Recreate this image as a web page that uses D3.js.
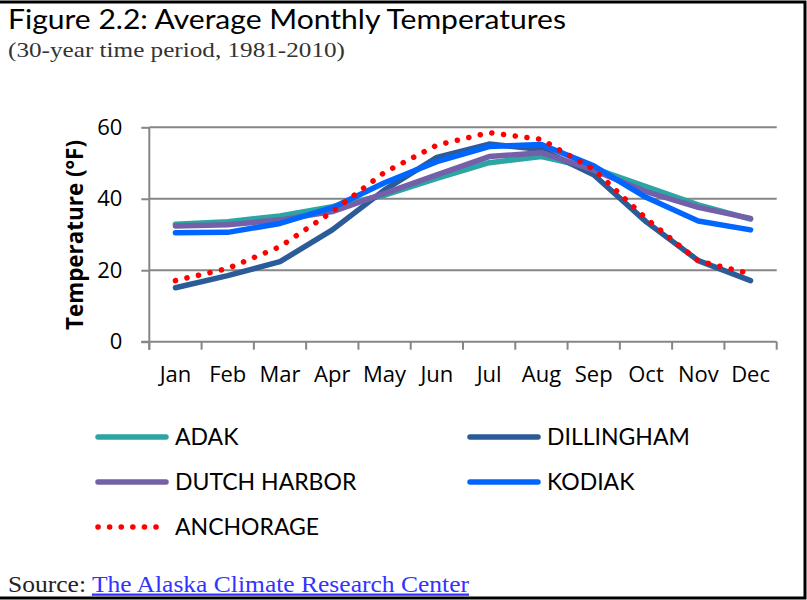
<!DOCTYPE html>
<html>
<head>
<meta charset="utf-8">
<script src="https://cdn.jsdelivr.net/npm/d3@7"></script>
<style>
  body { margin: 0; background: #fff; }
  svg { display: block; }
</style>
</head>
<body>
<div id="line-chart"></div>
<script>
// data
const months = ["Jan", "Feb", "Mar", "Apr", "May", "Jun", "Jul", "Aug", "Sep", "Oct", "Nov", "Dec"];
const adak = [32.9, 33.6, 35.2, 37.8, 41.0, 45.7, 50.1, 51.8, 48.5, 43.4, 38.3, 34.3];
const dillingham = [15.1, 18.5, 22.4, 31.3, 42.5, 51.6, 55.3, 53.8, 46.7, 33.6, 22.7, 17.1];
const dutchHarbor = [32.4, 32.7, 34.1, 36.4, 41.5, 46.7, 51.8, 52.9, 48.0, 42.0, 37.6, 34.5];
const kodiak = [30.5, 30.6, 33.1, 37.5, 44.5, 50.4, 54.6, 55.2, 49.2, 40.4, 33.8, 31.3];
const anchorage = [17.1, 20.5, 26.6, 36.4, 47.4, 55.0, 58.5, 56.6, 48.2, 34.5, 22.6, 19.0];
const yTicks = [0, 20, 40, 60];

const series = [
  { name: "ADAK", values: adak, color: "#2ca6a4", dotted: false },
  { name: "DILLINGHAM", values: dillingham, color: "#2b5c98", dotted: false },
  { name: "DUTCH HARBOR", values: dutchHarbor, color: "#7460a8", dotted: false },
  { name: "KODIAK", values: kodiak, color: "#0066ff", dotted: false },
  { name: "ANCHORAGE", values: anchorage, color: "#ff0000", dotted: true }
];

const svgWidth = 807;
const svgHeight = 600;
const plot = { left: 149.3, right: 776.7, top: 127.3, bottom: 341.7 };
const gridColor = "#868686";
const sansTitle = "Lato, sans-serif";
const sansAxis = "'Open Sans', sans-serif";
const serif = "'Liberation Serif', serif";

const svg = d3.select("#line-chart")
  .append("svg")
  .attr("width", svgWidth)
  .attr("height", svgHeight);

// frame (top, right, bottom edges)
svg.append("path")
  .attr("d", "M0,2 H805 V598 H0")
  .attr("fill", "none")
  .attr("stroke", "#000")
  .attr("stroke-width", 3);

// titles
svg.append("text")
  .attr("x", 8).attr("y", 29)
  .attr("textLength", 558)
  .attr("lengthAdjust", "spacingAndGlyphs")
  .style("font-family", sansTitle)
  .style("font-size", "27px")
  .attr("fill", "#000")
  .text("Figure 2.2: Average Monthly Temperatures");

svg.append("text")
  .attr("x", 8).attr("y", 57)
  .attr("textLength", 337)
  .attr("lengthAdjust", "spacingAndGlyphs")
  .style("font-family", serif)
  .style("font-size", "22px")
  .attr("fill", "#333")
  .text("(30-year time period, 1981-2010)");

const x = d3.scaleBand()
  .domain(months)
  .range([plot.left, plot.right]);

const y = d3.scaleLinear()
  .domain([0, 60])
  .range([plot.bottom, plot.top]);

const g = svg.append("g");

// gridlines
g.append("g")
  .selectAll("line")
  .data(yTicks.filter(d => d > 0))
  .join("line")
  .attr("x1", plot.left)
  .attr("x2", plot.right)
  .attr("y1", d => y(d))
  .attr("y2", d => y(d))
  .attr("stroke", gridColor)
  .attr("stroke-width", 2);

// y axis
const yAxis = g.append("g")
  .attr("transform", "translate(" + plot.left + ",0)")
  .call(d3.axisLeft(y).tickValues(yTicks).tickSize(8).tickPadding(19));
yAxis.select(".domain").attr("stroke", gridColor).attr("stroke-width", 2)
  .attr("d", "M0," + plot.top + "V" + (plot.bottom + 8));
yAxis.selectAll(".tick line").attr("stroke", gridColor).attr("stroke-width", 2);
yAxis.selectAll(".tick text")
  .style("font-family", sansAxis)
  .style("font-size", "22px")
  .attr("fill", "#000");

// x axis
const xAxis = g.append("g")
  .attr("transform", "translate(0," + plot.bottom + ")")
  .call(d3.axisBottom(x).tickSize(0).tickPadding(25));
xAxis.select(".domain").attr("stroke", gridColor).attr("stroke-width", 2)
  .attr("d", "M" + (plot.left - 8) + ",0H" + plot.right);
xAxis.selectAll(".tick text")
  .style("font-family", sansAxis)
  .style("font-size", "22px")
  .attr("fill", "#000");
// tick marks at band edges
xAxis.append("g")
  .selectAll("line")
  .data(months.concat(["end"]))
  .join("line")
  .attr("x1", (d, i) => i < months.length ? x(d) : plot.right)
  .attr("x2", (d, i) => i < months.length ? x(d) : plot.right)
  .attr("y1", 0)
  .attr("y2", 8)
  .attr("stroke", gridColor)
  .attr("stroke-width", 2);

// y axis title
svg.append("text")
  .attr("transform", "translate(83,235) rotate(-90)")
  .attr("text-anchor", "middle")
  .attr("textLength", 190)
  .attr("lengthAdjust", "spacingAndGlyphs")
  .style("font-family", sansAxis)
  .style("font-size", "24px")
  .style("font-weight", "bold")
  .attr("fill", "#000")
  .text("Temperature (°F)");

// lines
const myLine = d3.line()
  .x((d, i) => x(months[i]) + x.bandwidth() / 2)
  .y(d => y(d));

g.append("g")
  .selectAll("path")
  .data(series)
  .join("path")
  .attr("d", d => myLine(d.values))
  .attr("fill", "none")
  .attr("stroke", d => d.color)
  .attr("stroke-width", 5.5)
  .attr("stroke-linecap", "round")
  .attr("stroke-linejoin", "round")
  .attr("stroke-dasharray", d => d.dotted ? "0.1 11.7" : null);

// legend
const legendCols = [98, 470];
const legendRows = [437, 482, 527];
const legend = svg.append("g")
  .selectAll("g")
  .data(series)
  .join("g")
  .attr("transform", (d, i) => "translate(" + legendCols[i % 2] + "," + legendRows[Math.floor(i / 2)] + ")");

legend.append("line")
  .attr("x1", 0).attr("x2", 68)
  .attr("y1", 0).attr("y2", 0)
  .attr("stroke", d => d.color)
  .attr("stroke-width", 5.5)
  .attr("stroke-linecap", "round")
  .attr("stroke-dasharray", d => d.dotted ? "0.1 11.5" : null);

legend.append("text")
  .attr("x", 77)
  .attr("y", 8)
  .style("font-family", sansTitle)
  .style("font-size", "23px")
  .attr("fill", "#000")
  .text(d => d.name);

// source line
const src = svg.append("text")
  .attr("x", 8).attr("y", 591.5)
  .attr("textLength", 461)
  .attr("lengthAdjust", "spacingAndGlyphs")
  .style("font-family", serif)
  .style("font-size", "23px")
  .attr("fill", "#222");
src.append("tspan").text("Source: ");
src.append("tspan")
  .attr("fill", "#3333ff")
  .style("text-decoration", "underline")
  .text("The Alaska Climate Research Center");
</script>
</body>
</html>
